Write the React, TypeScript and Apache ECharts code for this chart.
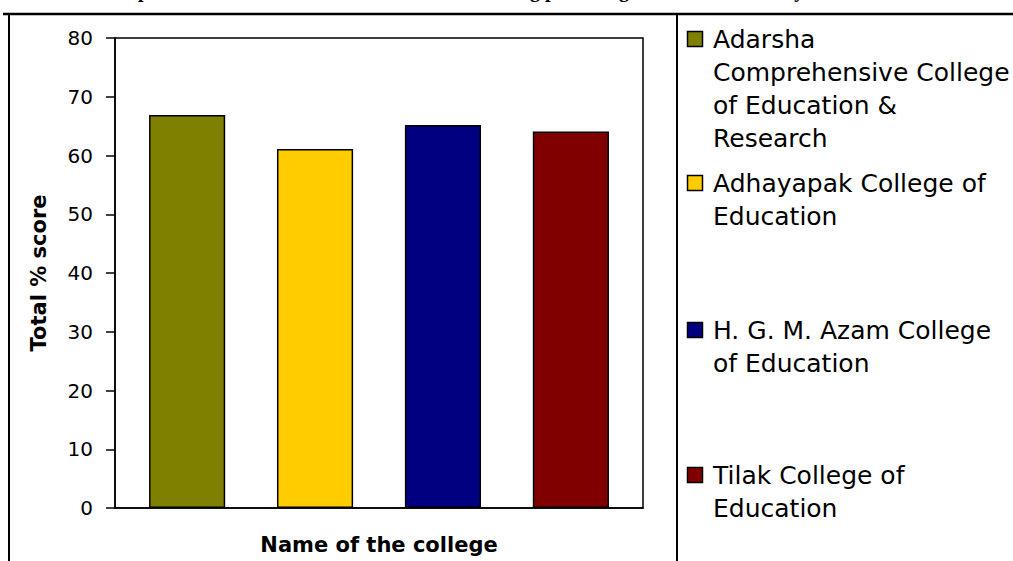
import React, { useEffect, useRef } from "react";
import * as echarts from "echarts";

const colleges = [
  "Adarsha Comprehensive College of Education & Research",
  "Adhayapak College of Education",
  "H. G. M. Azam College of Education",
  "Tilak College of Education",
];
const legendLines = [
  ["Adarsha", "Comprehensive College", "of Education &", "Research"],
  ["Adhayapak College of", "Education"],
  ["H. G. M. Azam College", "of Education"],
  ["Tilak College of", "Education"],
];
const scores = [66.9, 61.1, 65.2, 64.1];
const colors = ["#808000", "#FFCC00", "#000080", "#800000"];
const yTicks = { min: 0, max: 80, interval: 10 };
const titleText =
  "Comparison of the total scores of the B.Ed. teaching percentage scores of this study";
const xAxisTitle = "Name of the college";
const yAxisTitle = "Total % score";

const legendFirstLineY = [39, 183, 330, 475];

export default function App() {
  const ref = useRef<HTMLDivElement>(null);
  useEffect(() => {
    if (!ref.current) return;
    const chart = echarts.init(ref.current, null, { renderer: "svg" });
    const font = "DejaVu Sans";
    const legendGraphics: any[] = [];
    legendLines.forEach((lines, i) => {
      const cy = legendFirstLineY[i];
      legendGraphics.push({
        type: "rect",
        shape: { x: 687.5, y: cy - 7.5, width: 15, height: 15 },
        style: { fill: colors[i], stroke: "#000", lineWidth: 1.5 },
      });
      legendGraphics.push({
        type: "text",
        x: 713,
        y: cy - 16.5,
        style: {
          text: lines.join("\n"),
          font: `25px '${font}'`,
          fill: "#000",
          lineHeight: 33,
          verticalAlign: "top",
          align: "left",
        },
      });
    });
    chart.setOption({
      animation: false,
      backgroundColor: "#fff",
      grid: {
        left: 115,
        right: 1013 - 643,
        top: 38,
        bottom: 561 - 508,
        show: true,
        borderColor: "#000",
        borderWidth: 1.5,
        containLabel: false,
        outerBoundsMode: "none",
      },
      xAxis: {
        type: "category",
        data: [""],
        axisLine: { show: true, lineStyle: { color: "#000", width: 1.5 } },
        axisTick: { show: false },
        axisLabel: { show: false },
        name: xAxisTitle,
        nameLocation: "middle",
        nameGap: 26,
        nameTextStyle: {
          fontFamily: font,
          fontWeight: "bold",
          fontSize: 21,
          color: "#000",
        },
      },
      yAxis: {
        type: "value",
        min: yTicks.min,
        max: yTicks.max,
        interval: yTicks.interval,
        splitLine: { show: false },
        axisLine: { show: true, lineStyle: { color: "#000", width: 1.5 } },
        axisTick: {
          show: true,
          length: 9,
          lineStyle: { color: "#000", width: 1.5 },
        },
        axisLabel: {
          margin: 22,
          fontFamily: font,
          fontSize: 20,
          color: "#000",
        },
        name: yAxisTitle,
        nameLocation: "middle",
        nameGap: 66,
        nameRotate: 90,
        nameTextStyle: {
          fontFamily: font,
          fontWeight: "bold",
          fontSize: 21,
          color: "#000",
        },
      },
      series: colleges.map((name, i) => ({
        type: "bar",
        name,
        data: [scores[i]],
        barGap: "68%",
        barCategoryGap: "12.9%",
        itemStyle: { color: colors[i], borderColor: "#000", borderWidth: 1.5 },
      })),
      graphic: [
        {
          type: "text",
          x: 97,
          y: -10,
          style: {
            text: titleText,
            font: "bold 20px 'Liberation Serif'",
            fill: "#000",
            verticalAlign: "middle",
            align: "left",
          },
        },
        { type: "line", shape: { x1: 3, y1: 14, x2: 1013, y2: 14 }, style: { stroke: "#000", lineWidth: 2.5 } },
        { type: "line", shape: { x1: 9, y1: 14, x2: 9, y2: 561 }, style: { stroke: "#000", lineWidth: 2 } },
        { type: "line", shape: { x1: 677, y1: 14, x2: 677, y2: 561 }, style: { stroke: "#000", lineWidth: 2 } },
        ...legendGraphics,
      ],
    });
    return () => chart.dispose();
  }, []);
  return (
    <div
      ref={ref}
      style={{ position: "fixed", left: 0, top: 0, width: 1013, height: 561 }}
    />
  );
}
